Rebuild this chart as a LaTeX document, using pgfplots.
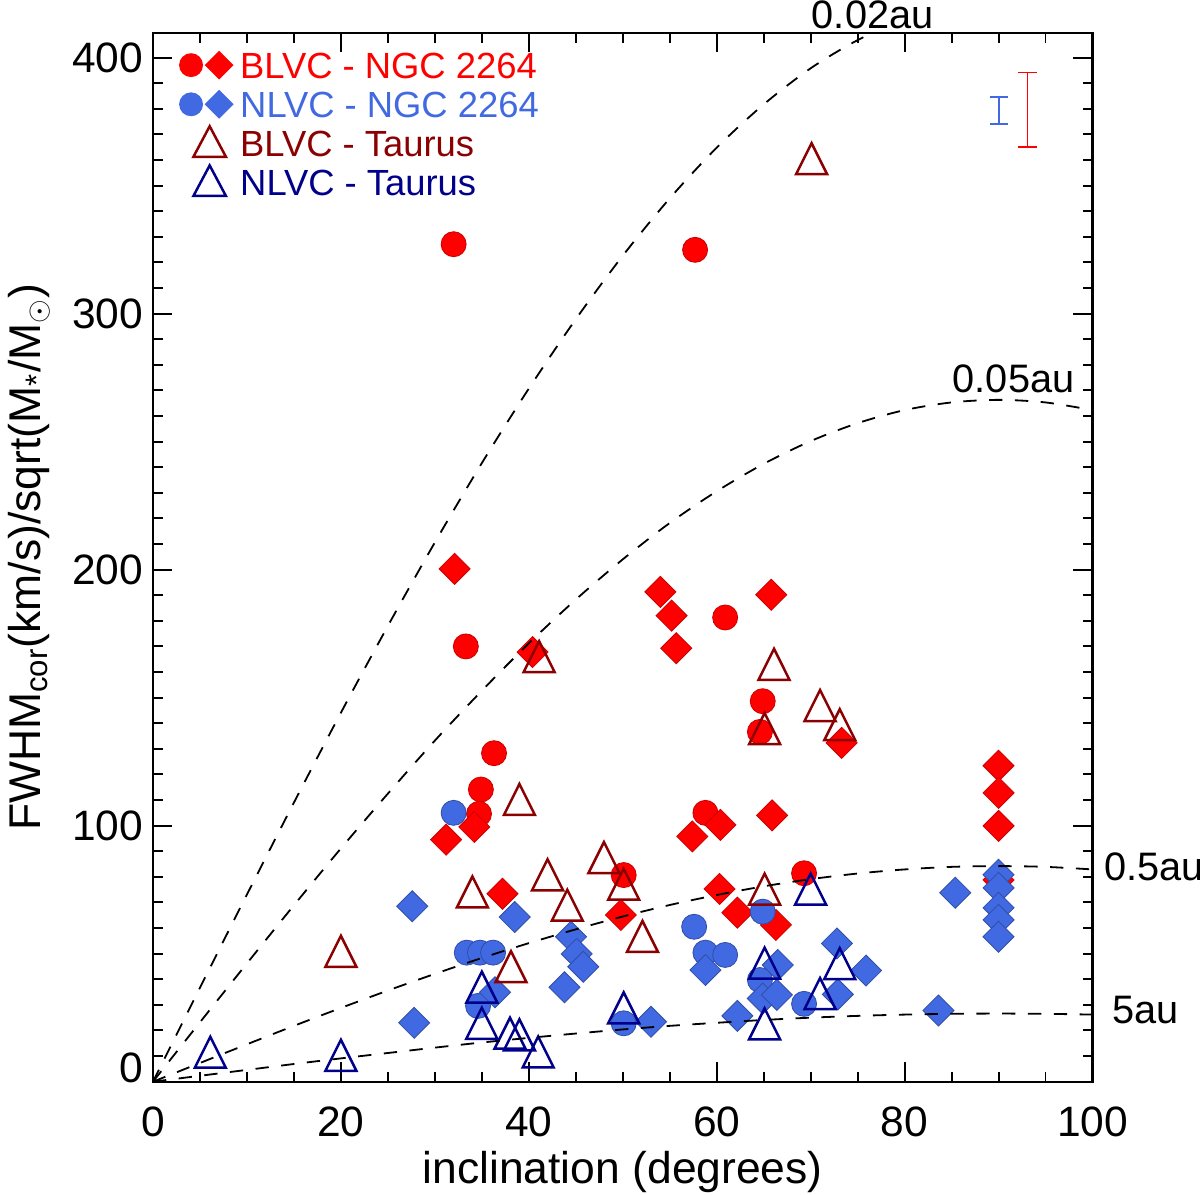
\documentclass[border=0pt]{standalone}
\usepackage{fontspec}
\setmainfont{Liberation Sans}
\usepackage{pgfplots}
\pgfplotsset{compat=1.18}
\definecolor{rblue}{RGB}{65,105,225}
\definecolor{dred}{RGB}{139,0,0}
\definecolor{navyb}{RGB}{0,0,139}
\begin{document}
\begin{tikzpicture}
\begin{axis}[
  at={(0,0)}, anchor=south west,
  scale only axis, width=338.22pt, height=377.53pt,
  xmin=0, xmax=100, ymin=0, ymax=409.6,
  clip mode=individual,
  axis line style={line width=0.8pt},
  tick align=inside,
  major tick length=7pt, minor tick length=3.5pt,
  every tick/.style={black, line width=0.7pt},
  xtick={0,20,...,100}, minor x tick num=3,
  ytick={0,100,...,400}, minor y tick num=9,
  yticklabels={\raisebox{9.8pt}{0},100,200,300,400},
  /pgf/number format/assume math mode=true,
  ticklabel style={font=\fontsize{15.3}{16}\selectfont},
  xticklabel style={yshift=-5.4pt},
  xlabel={inclination (degrees)},
  xlabel style={font=\fontsize{16}{16}\selectfont, at={(axis description cs:0.5,-0.0861)}, anchor=center},
  ylabel={FWHM\textsubscript{cor}(km/s)/sqrt(M\textsubscript{*}/M\textsubscript{$\odot$})},
  ylabel style={font=\fontsize{16}{16}\selectfont, at={(axis description cs:-0.132,0.5)}, anchor=center},
  legend style={at={(axis description cs:0.0278,0.988)}, anchor=north west, draw=none, fill=none,
    inner sep=0pt, outer sep=0pt, row sep=0pt, font=\fontsize{13.1}{13.1}\selectfont,
    nodes={inner sep=0pt, text height=10.5pt, text depth=1pt}},
  legend cell align=left,
]
\addlegendimage{legend image code/.code={
  \path[draw=none, fill=none] (0pt,-7.05pt) rectangle (22pt,7.05pt);
  \fill[red, draw=none] (4.3pt,0pt) circle (4.3pt);
  \fill[red, draw=none] (14.4pt,5.2pt) -- (19.6pt,0pt) -- (14.4pt,-5.2pt) -- (9.2pt,0pt) -- cycle;}}
\addlegendimage{legend image code/.code={
  \path[draw=none, fill=none] (0pt,-7.05pt) rectangle (22pt,7.05pt);
  \fill[rblue, draw=none] (4.3pt,0pt) circle (4.3pt);
  \fill[rblue, draw=none] (14.4pt,5.2pt) -- (19.6pt,0pt) -- (14.4pt,-5.2pt) -- (9.2pt,0pt) -- cycle;}}
\addlegendimage{legend image code/.code={
  \path[draw=none, fill=none] (0pt,-7.05pt) rectangle (22pt,7.05pt);
  \draw[dred, fill=none, line width=0.9pt] (5.15pt,-4.8pt) -- (16.85pt,-4.8pt) -- (11pt,6.2pt) -- cycle;}}
\addlegendimage{legend image code/.code={
  \path[draw=none, fill=none] (0pt,-7.05pt) rectangle (22pt,7.05pt);
  \draw[navyb, fill=none, line width=0.9pt] (5.15pt,-4.8pt) -- (16.85pt,-4.8pt) -- (11pt,6.2pt) -- cycle;}}
\legend{\textcolor{red}{BLVC - NGC 2264},\textcolor{rblue}{NLVC - NGC 2264},\textcolor{dred}{BLVC - Taurus},\textcolor{navyb}{NLVC - Taurus}}

% BLVC NGC 2264 circles
\addplot[forget plot, only marks, mark=*, mark size=4.5pt, mark options={fill=red, draw=red!80!black, line width=0.3pt}] coordinates {
(32.0,327.1) (57.7,324.9) (33.3,170.0) (60.9,181.3) (64.9,148.6) (64.6,136.6)
(36.3,128.3) (34.9,114.1) (34.7,104.6) (58.8,105.0) (50.1,80.7) (69.3,81.4)
};
% BLVC NGC 2264 diamonds
\addplot[forget plot, only marks, mark=square*, mark size=3.95pt, mark options={rotate=45, fill=red, draw=red!80!black, line width=0.3pt}] coordinates {
(32.1,200.3) (40.4,167.8) (54.0,191.3) (55.2,182.0) (55.7,169.3) (65.8,190.2)
(34.2,99.5) (31.2,94.5) (60.4,100.3) (57.4,95.8) (65.9,104.0) (73.3,132.3)
(90.0,123.4) (90.0,112.8) (90.0,99.9) (90.0,78.8) (37.2,73.4) (49.8,65.1)
(60.3,75.3) (62.2,66.0) (66.3,61.2)
};
% NLVC NGC 2264 circles
\addplot[forget plot, only marks, mark=*, mark size=4.5pt, mark options={fill=rblue, draw=rblue!75!black, line width=0.3pt}] coordinates {
(32.0,105.0) (33.4,50.4) (34.8,50.4) (36.2,50.4) (34.6,29.6) (64.9,66.4)
(57.6,60.5) (58.8,50.4) (60.9,49.5) (64.6,39.7) (50.1,22.8) (69.3,30.4)
};
% NLVC NGC 2264 diamonds
\addplot[forget plot, only marks, mark=square*, mark size=3.95pt, mark options={rotate=45, fill=rblue, draw=rblue!75!black, line width=0.3pt}] coordinates {
(27.6,68.5) (38.5,64.3) (36.4,34.9) (27.8,23.0) (44.5,56.6) (45.1,49.9)
(45.8,44.9) (43.8,36.9) (58.8,43.6) (53.0,23.4) (62.2,25.7) (66.5,45.6)
(64.9,32.5) (66.4,33.9) (72.9,34.1) (72.8,54.0) (75.9,43.4) (83.6,27.8)
(85.4,73.8) (90.0,80.8) (90.0,75.7) (90.0,67.9) (90.0,63.2) (90.0,56.6)
};
% BLVC Taurus triangles
\addplot[forget plot, only marks, mark=triangle, mark size=6.44pt, mark options={yscale=1.155, draw=dred, line width=0.9pt}] coordinates {
(70.1,358.5) (41.1,164.0) (66.1,161.0) (65.1,135.9) (71.0,144.9) (73.1,137.4)
(39.0,108.2) (34.0,72.1) (42.0,78.8) (48.0,85.5) (50.1,75.1) (44.1,66.9)
(52.1,54.7) (65.1,73.2) (38.1,42.9) (20.0,48.9)
};
% NLVC Taurus triangles
\addplot[forget plot, only marks, mark=triangle, mark size=6.44pt, mark options={yscale=1.155, draw=navyb, line width=0.9pt}] coordinates {
(6.1,9.5) (20.0,8.3) (35.0,34.9) (35.0,20.8) (38.0,16.9) (39.0,16.3)
(41.0,9.6) (50.1,26.8) (65.1,20.6) (65.1,44.3) (70.0,73.2) (71.0,32.4) (73.1,44.1)
};
% Keplerian curves
\addplot[forget plot, black, line width=0.65pt, dash pattern=on 4.8pt off 4.5pt, smooth] coordinates {
(0,0) (5,36.7) (10,73.1) (15,109.0) (20,144.1) (25,178.0) (30,210.6) (35,241.6)
(40,270.7) (45,297.8) (50,322.6) (55,345.0) (60,364.8) (65,381.7) (70,395.8)
(75,406.8) (80,414.8) (85,419.6) (90,421.2)
};
\addplot[forget plot, black, line width=0.65pt, dash pattern=on 4.8pt off 4.5pt, smooth] coordinates {
(0,0) (5,23.2) (10,46.2) (15,68.9) (20,91.1) (25,112.5) (30,133.2) (35,152.7)
(40,171.2) (45,188.3) (50,204.0) (55,218.2) (60,230.6) (65,241.3) (70,250.2)
(75,257.2) (80,262.3) (85,265.3) (90,266.3) (95,265.3) (100,262.3)
};
\addplot[forget plot, black, line width=0.65pt, dash pattern=on 4.8pt off 4.5pt, smooth] coordinates {
(0,0) (5,7.3) (10,14.6) (15,21.8) (20,28.8) (25,35.6) (30,42.1) (35,48.3)
(40,54.1) (45,59.5) (50,64.5) (55,69.0) (60,72.9) (65,76.3) (70,79.1)
(75,81.3) (80,82.9) (85,83.9) (90,84.2) (95,83.9) (100,82.9)
};
\addplot[forget plot, black, line width=0.65pt, dash pattern=on 4.8pt off 4.5pt, smooth] coordinates {
(0,0) (5,2.3) (10,4.6) (15,6.9) (20,9.1) (25,11.2) (30,13.3) (35,15.3)
(40,17.1) (45,18.8) (50,20.4) (55,21.8) (60,23.0) (65,24.1) (70,25.0)
(75,25.7) (80,26.2) (85,26.5) (90,26.6) (95,26.5) (100,26.2)
};
% typical error bars
\addplot[forget plot, rblue, line width=0.6pt, unbounded coords=jump] coordinates {
(89.1,374.1) (91.05,374.1) (nan,nan)
(90.08,374.1) (90.08,384.7) (nan,nan)
(89.1,384.7) (91.05,384.7)
};
\addplot[forget plot, red, line width=0.6pt, unbounded coords=jump] coordinates {
(92.1,365.1) (94.05,365.1) (nan,nan)
(93.08,365.1) (93.08,394.1) (nan,nan)
(92.1,394.1) (94.05,394.1)
};
\node[font=\fontsize{14.3}{14.3}\selectfont, inner sep=0pt] at (axis cs:76.6,416.7) {0.02au};
\node[font=\fontsize{14.3}{14.3}\selectfont, inner sep=0pt] at (axis cs:91.6,274.7) {0.05au};
\node[font=\fontsize{14.3}{14.3}\selectfont, inner sep=0pt, anchor=west] at (axis cs:101.2,84.0) {0.5au};
\node[font=\fontsize{14.3}{14.3}\selectfont, inner sep=0pt, anchor=west] at (axis cs:102.1,28.0) {5au};
\end{axis}
\pgfresetboundingbox
\path[use as bounding box] (-55.08pt,-40.79pt) rectangle (376.92pt,389.41pt);
\end{tikzpicture}
\end{document}
